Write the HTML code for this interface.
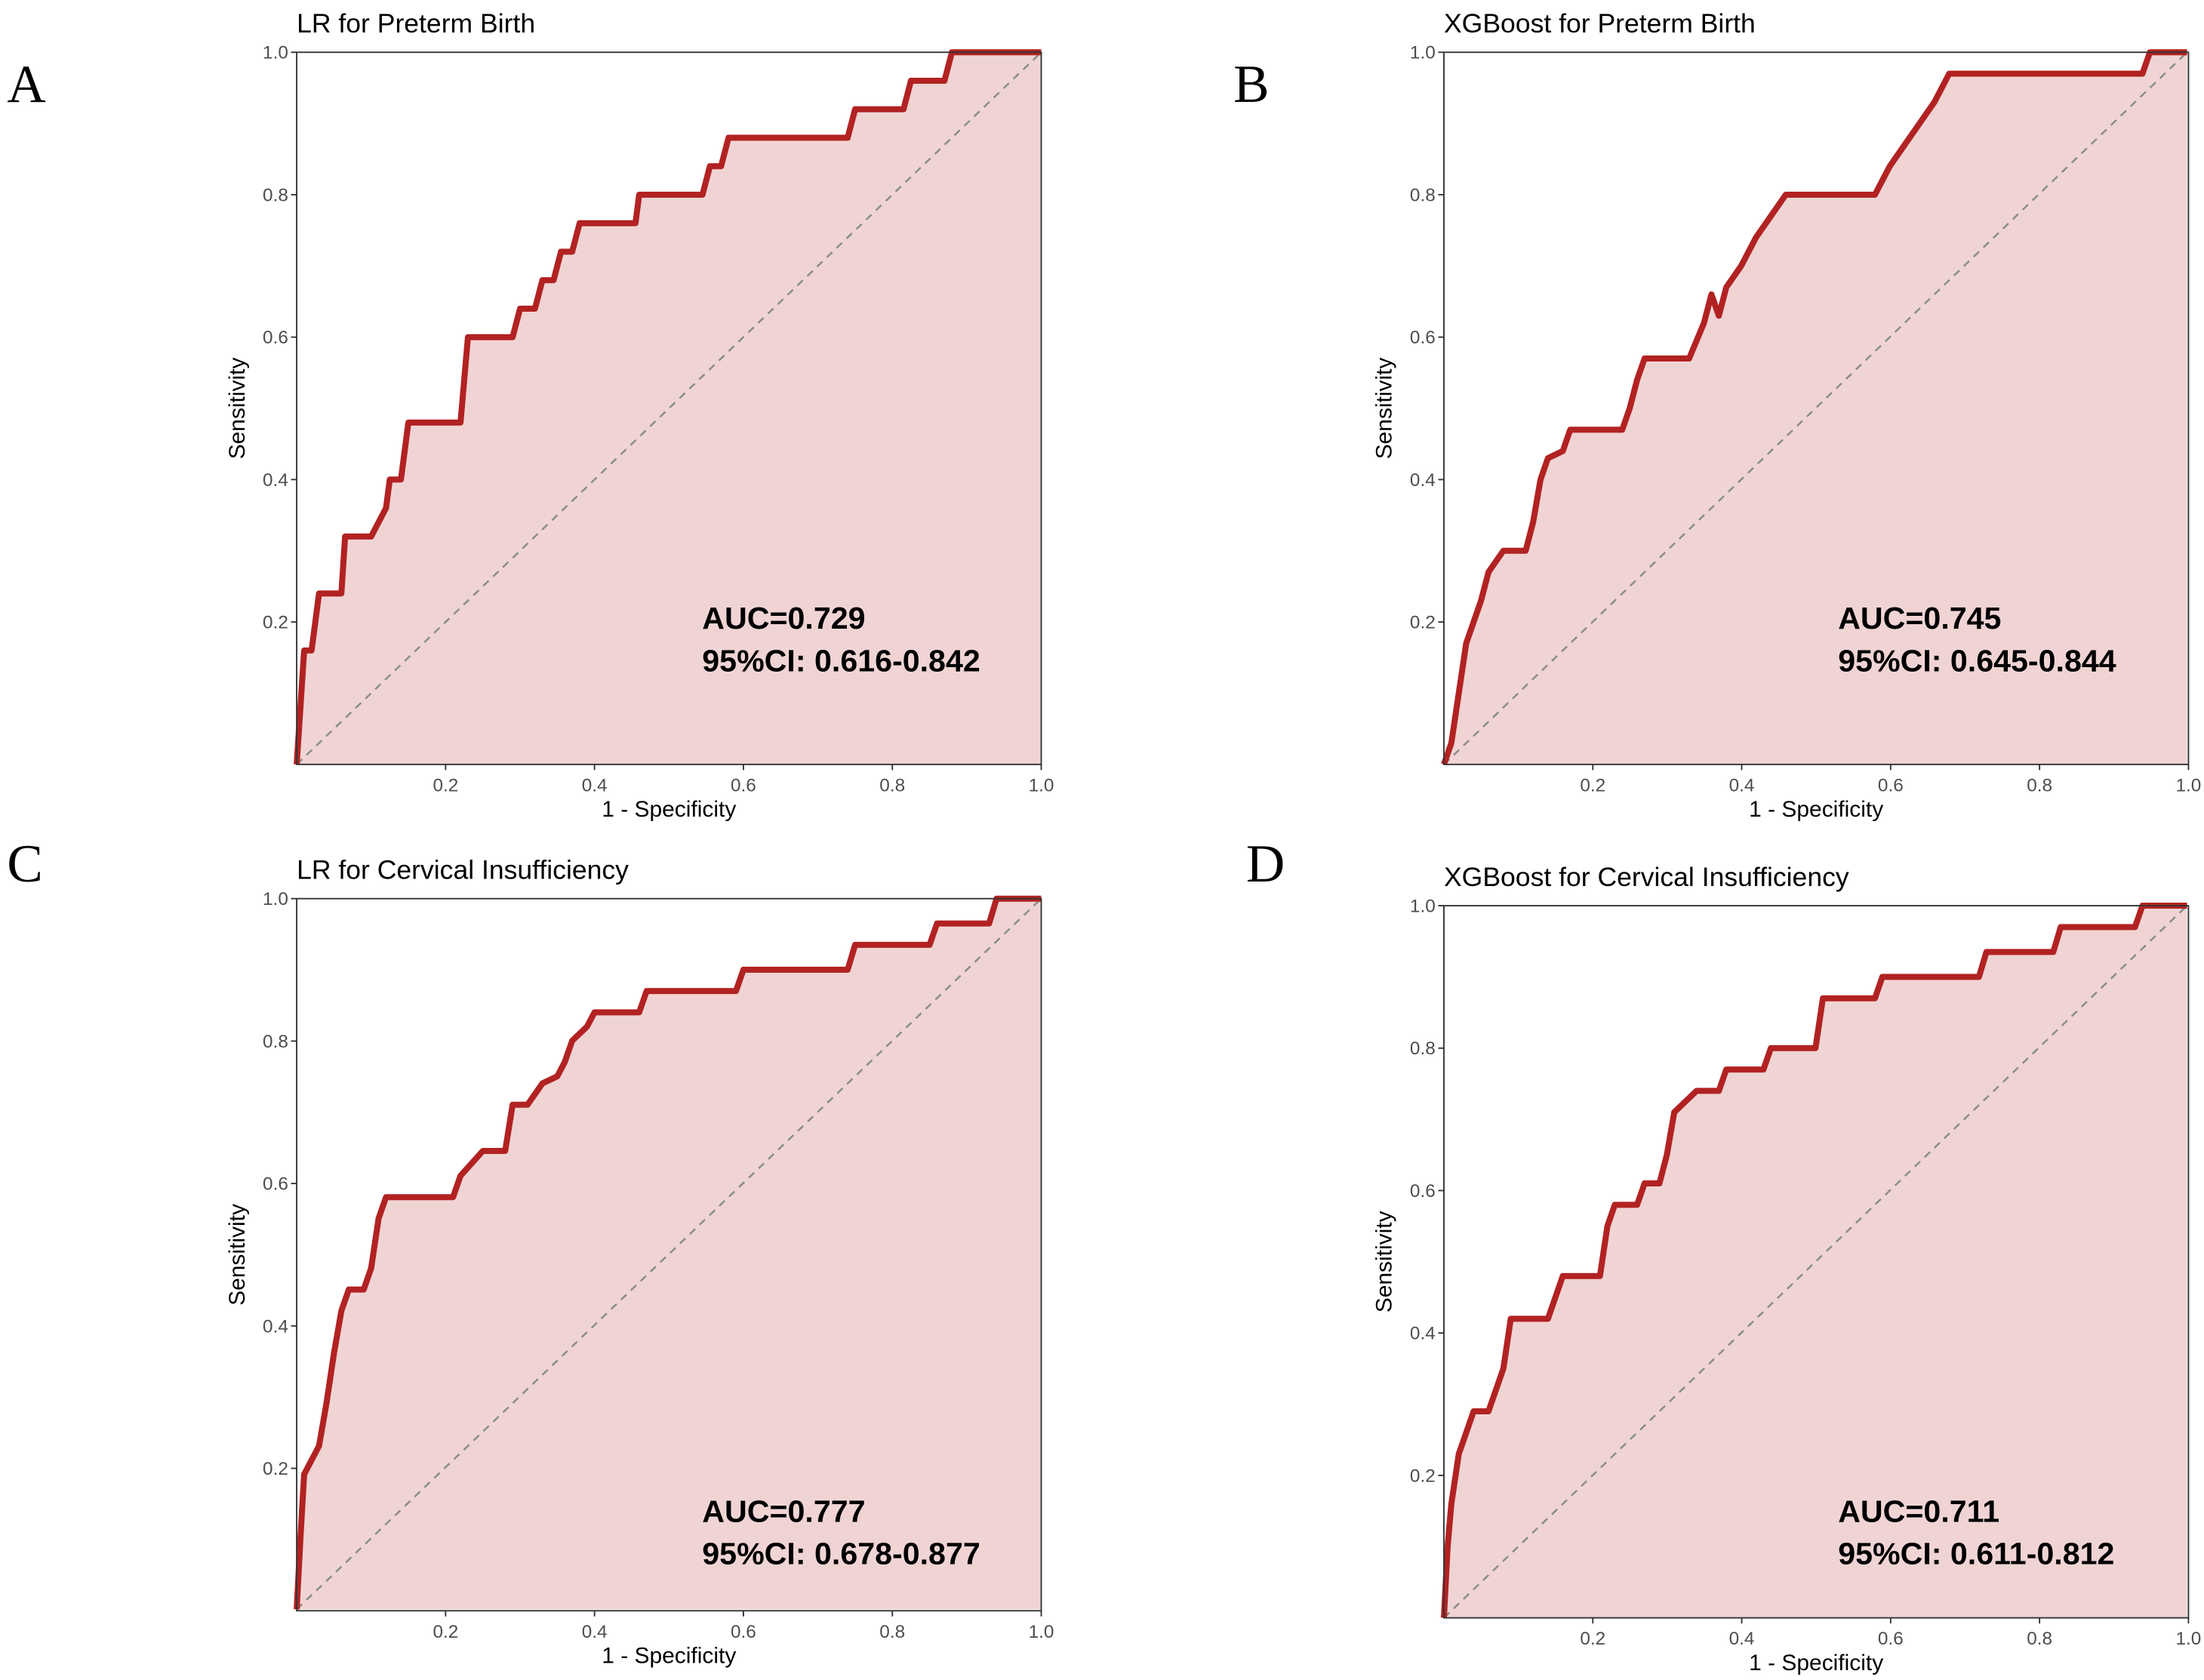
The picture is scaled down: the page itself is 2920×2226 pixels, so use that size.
<!DOCTYPE html>
<html><head><meta charset="utf-8"><style>
html,body{margin:0;padding:0;background:#fff;}
svg{display:block;}
.tick{font-family:"Liberation Sans",sans-serif;font-size:13px;fill:#4d4d4d;}
.ax{font-family:"Liberation Sans",sans-serif;font-size:16px;fill:#000;}
.ttl{font-family:"Liberation Sans",sans-serif;font-size:19px;fill:#000;}
.auc{font-family:"Liberation Sans",sans-serif;font-size:22px;font-weight:bold;fill:#000;}
.let{font-family:"Liberation Serif",serif;font-size:38px;fill:#000;}
</style></head><body>
<svg width="2920" height="2226" viewBox="0 0 1560 1189" preserveAspectRatio="none" xmlns="http://www.w3.org/2000/svg">
<defs>
<g id="axes">
  <rect x="0" y="0" width="527" height="504" fill="none" stroke="#333" stroke-width="1"/>
  <g stroke="#333" stroke-width="1">
    <line x1="105.4" y1="504" x2="105.4" y2="508"/><line x1="210.8" y1="504" x2="210.8" y2="508"/>
    <line x1="316.2" y1="504" x2="316.2" y2="508"/><line x1="421.6" y1="504" x2="421.6" y2="508"/>
    <line x1="527" y1="504" x2="527" y2="508"/>
    <line x1="-4" y1="0" x2="0" y2="0"/><line x1="-4" y1="100.8" x2="0" y2="100.8"/>
    <line x1="-4" y1="201.6" x2="0" y2="201.6"/><line x1="-4" y1="302.4" x2="0" y2="302.4"/>
    <line x1="-4" y1="403.2" x2="0" y2="403.2"/>
  </g>
  <g class="tick" text-anchor="middle">
    <text x="105.4" y="523">0.2</text><text x="210.8" y="523">0.4</text><text x="316.2" y="523">0.6</text>
    <text x="421.6" y="523">0.8</text><text x="527" y="523">1.0</text>
  </g>
  <g class="tick" text-anchor="end">
    <text x="-6" y="4.5">1.0</text><text x="-6" y="105.3">0.8</text><text x="-6" y="206.1">0.6</text>
    <text x="-6" y="306.9">0.4</text><text x="-6" y="407.7">0.2</text>
  </g>
  <text class="ax" x="263.5" y="541" text-anchor="middle">1 - Specificity</text>
  <text class="ax" transform="translate(-37,252) rotate(-90)" text-anchor="middle">Sensitivity</text>
</g>
</defs>

<!-- Panel A -->
<g transform="translate(210,37)">
  <g transform="translate(0,504) scale(527,-504)">
    <polygon fill="#f0d4d4" points="0,0 0.01,0.16 0.02,0.16 0.03,0.24 0.06,0.24 0.065,0.32 0.1,0.32 0.12,0.36 0.125,0.4 0.14,0.4 0.15,0.48 0.22,0.48 0.23,0.6 0.29,0.6 0.3,0.64 0.32,0.64 0.33,0.68 0.345,0.68 0.355,0.72 0.37,0.72 0.38,0.76 0.455,0.76 0.46,0.8 0.545,0.8 0.555,0.84 0.57,0.84 0.58,0.88 0.74,0.88 0.75,0.92 0.815,0.92 0.825,0.96 0.87,0.96 0.88,1 1,1 1,0"/>
    <line x1="0" y1="0" x2="1" y2="1" stroke="#8c8c8c" stroke-width="2.5" stroke-dasharray="10,8" vector-effect="non-scaling-stroke"/>
    <polyline fill="none" stroke="#b22222" stroke-width="8" stroke-linejoin="round" vector-effect="non-scaling-stroke" points="0,0 0.01,0.16 0.02,0.16 0.03,0.24 0.06,0.24 0.065,0.32 0.1,0.32 0.12,0.36 0.125,0.4 0.14,0.4 0.15,0.48 0.22,0.48 0.23,0.6 0.29,0.6 0.3,0.64 0.32,0.64 0.33,0.68 0.345,0.68 0.355,0.72 0.37,0.72 0.38,0.76 0.455,0.76 0.46,0.8 0.545,0.8 0.555,0.84 0.57,0.84 0.58,0.88 0.74,0.88 0.75,0.92 0.815,0.92 0.825,0.96 0.87,0.96 0.88,1 1,1"/>
  </g>
  <use href="#axes"/>
  <text class="ttl" x="0" y="-14">LR for Preterm Birth</text>
  <text class="auc" x="287" y="408">AUC=0.729</text>
  <text class="auc" x="287" y="438">95%CI: 0.616-0.842</text>
</g>
<text class="let" x="5" y="72">A</text>

<!-- Panel B -->
<g transform="translate(1022,37)">
  <g transform="translate(0,504) scale(526,-504)">
    <polygon fill="#f0d4d4" points="0,0 0.01,0.03 0.02,0.1 0.03,0.17 0.04,0.2 0.05,0.23 0.06,0.27 0.08,0.3 0.11,0.3 0.12,0.34 0.13,0.4 0.14,0.43 0.16,0.44 0.17,0.47 0.24,0.47 0.25,0.5 0.26,0.54 0.27,0.57 0.33,0.57 0.35,0.62 0.36,0.66 0.37,0.63 0.38,0.67 0.4,0.7 0.42,0.74 0.44,0.77 0.46,0.8 0.58,0.8 0.6,0.84 0.62,0.87 0.64,0.9 0.66,0.93 0.68,0.97 0.94,0.97 0.95,1 1,1 1,0"/>
    <line x1="0" y1="0" x2="1" y2="1" stroke="#8c8c8c" stroke-width="2.5" stroke-dasharray="10,8" vector-effect="non-scaling-stroke"/>
    <polyline fill="none" stroke="#b22222" stroke-width="8" stroke-linejoin="round" vector-effect="non-scaling-stroke" points="0,0 0.01,0.03 0.02,0.1 0.03,0.17 0.04,0.2 0.05,0.23 0.06,0.27 0.08,0.3 0.11,0.3 0.12,0.34 0.13,0.4 0.14,0.43 0.16,0.44 0.17,0.47 0.24,0.47 0.25,0.5 0.26,0.54 0.27,0.57 0.33,0.57 0.35,0.62 0.36,0.66 0.37,0.63 0.38,0.67 0.4,0.7 0.42,0.74 0.44,0.77 0.46,0.8 0.58,0.8 0.6,0.84 0.62,0.87 0.64,0.9 0.66,0.93 0.68,0.97 0.94,0.97 0.95,1 1,1"/>
  </g>
  <use href="#axes"/>
  <text class="ttl" x="0" y="-14">XGBoost for Preterm Birth</text>
  <text class="auc" x="279" y="408">AUC=0.745</text>
  <text class="auc" x="279" y="438">95%CI: 0.645-0.844</text>
</g>
<text class="let" x="873" y="72">B</text>

<!-- Panel C -->
<g transform="translate(210,636)">
  <g transform="translate(0,503) scale(527,-503)">
    <polygon fill="#f0d4d4" points="0,0 0.005,0.1 0.01,0.19 0.03,0.23 0.04,0.29 0.05,0.36 0.06,0.42 0.07,0.45 0.09,0.45 0.1,0.48 0.11,0.55 0.12,0.58 0.21,0.58 0.22,0.61 0.25,0.645 0.28,0.645 0.29,0.71 0.31,0.71 0.33,0.74 0.35,0.75 0.36,0.77 0.37,0.8 0.39,0.82 0.4,0.84 0.46,0.84 0.47,0.87 0.59,0.87 0.6,0.9 0.74,0.9 0.75,0.935 0.85,0.935 0.86,0.965 0.93,0.965 0.94,1 1,1 1,0"/>
    <line x1="0" y1="0" x2="1" y2="1" stroke="#8c8c8c" stroke-width="2.5" stroke-dasharray="10,8" vector-effect="non-scaling-stroke"/>
    <polyline fill="none" stroke="#b22222" stroke-width="8" stroke-linejoin="round" vector-effect="non-scaling-stroke" points="0,0 0.005,0.1 0.01,0.19 0.03,0.23 0.04,0.29 0.05,0.36 0.06,0.42 0.07,0.45 0.09,0.45 0.1,0.48 0.11,0.55 0.12,0.58 0.21,0.58 0.22,0.61 0.25,0.645 0.28,0.645 0.29,0.71 0.31,0.71 0.33,0.74 0.35,0.75 0.36,0.77 0.37,0.8 0.39,0.82 0.4,0.84 0.46,0.84 0.47,0.87 0.59,0.87 0.6,0.9 0.74,0.9 0.75,0.935 0.85,0.935 0.86,0.965 0.93,0.965 0.94,1 1,1"/>
  </g>
  <use href="#axes"/>
  <text class="ttl" x="0" y="-14">LR for Cervical Insufficiency</text>
  <text class="auc" x="287" y="441">AUC=0.777</text>
  <text class="auc" x="287" y="471">95%CI: 0.678-0.877</text>
</g>
<text class="let" x="5" y="624">C</text>

<!-- Panel D -->
<g transform="translate(1022,641)">
  <g transform="translate(0,504) scale(526,-504)">
    <polygon fill="#f0d4d4" points="0,0 0.005,0.1 0.01,0.16 0.02,0.23 0.03,0.26 0.04,0.29 0.06,0.29 0.07,0.32 0.08,0.35 0.09,0.42 0.14,0.42 0.15,0.45 0.16,0.48 0.21,0.48 0.22,0.55 0.23,0.58 0.26,0.58 0.27,0.61 0.29,0.61 0.3,0.65 0.31,0.71 0.34,0.74 0.37,0.74 0.38,0.77 0.43,0.77 0.44,0.8 0.5,0.8 0.51,0.87 0.58,0.87 0.59,0.9 0.72,0.9 0.73,0.935 0.82,0.935 0.83,0.97 0.93,0.97 0.94,1 1,1 1,0"/>
    <line x1="0" y1="0" x2="1" y2="1" stroke="#8c8c8c" stroke-width="2.5" stroke-dasharray="10,8" vector-effect="non-scaling-stroke"/>
    <polyline fill="none" stroke="#b22222" stroke-width="8" stroke-linejoin="round" vector-effect="non-scaling-stroke" points="0,0 0.005,0.1 0.01,0.16 0.02,0.23 0.03,0.26 0.04,0.29 0.06,0.29 0.07,0.32 0.08,0.35 0.09,0.42 0.14,0.42 0.15,0.45 0.16,0.48 0.21,0.48 0.22,0.55 0.23,0.58 0.26,0.58 0.27,0.61 0.29,0.61 0.3,0.65 0.31,0.71 0.34,0.74 0.37,0.74 0.38,0.77 0.43,0.77 0.44,0.8 0.5,0.8 0.51,0.87 0.58,0.87 0.59,0.9 0.72,0.9 0.73,0.935 0.82,0.935 0.83,0.97 0.93,0.97 0.94,1 1,1"/>
  </g>
  <use href="#axes"/>
  <text class="ttl" x="0" y="-14">XGBoost for Cervical Insufficiency</text>
  <text class="auc" x="279" y="436">AUC=0.711</text>
  <text class="auc" x="279" y="466">95%CI: 0.611-0.812</text>
</g>
<text class="let" x="882" y="624">D</text>
</svg>
</body></html>
